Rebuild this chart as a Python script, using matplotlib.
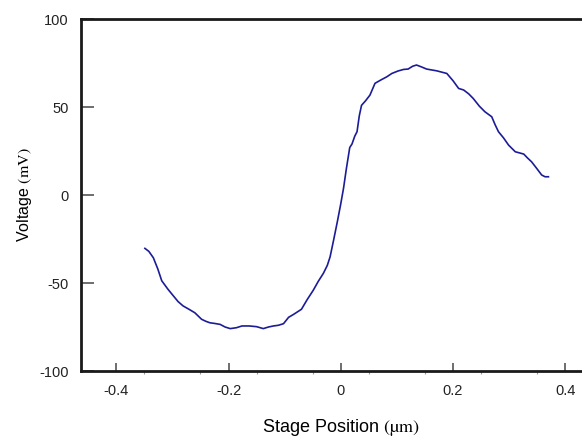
import numpy as np
import matplotlib.pyplot as plt
from matplotlib.ticker import FixedLocator

plt.rcParams['font.family'] = ['Liberation Sans', 'DejaVu Sans']
plt.rcParams['mathtext.fontset'] = 'stix'
plt.rcParams['axes.unicode_minus'] = False

# stage position (um) and voltage (mV)
posicion = [-0.349, -0.342, -0.334, -0.326, -0.319, -0.308, -0.298, -0.290, -0.281,
            -0.270, -0.260, -0.248, -0.240, -0.233, -0.224, -0.215, -0.206,
            -0.197, -0.186, -0.176, -0.163, -0.150, -0.138, -0.129, -0.120,
            -0.111, -0.102, -0.093, -0.084, -0.070, -0.060, -0.049, -0.040,
            -0.031, -0.024, -0.019, -0.013, -0.006, 0.000, 0.005, 0.010, 0.016,
            0.020, 0.025, 0.029, 0.033, 0.037, 0.044, 0.052, 0.061, 0.072, 0.082,
            0.091, 0.102, 0.112, 0.120, 0.128, 0.135, 0.144, 0.153, 0.171,
            0.189, 0.200, 0.210, 0.219, 0.228, 0.236, 0.247, 0.257, 0.269,
            0.275, 0.281, 0.290, 0.299, 0.311, 0.326, 0.333, 0.340, 0.349,
            0.358, 0.364, 0.370]
voltaje = [-30.3, -32.0, -35.6, -42.0, -48.7, -53.5, -57.4, -60.5, -63.0,
           -65.0, -66.9, -70.6, -71.8, -72.6, -73.0, -73.5, -75.0,
           -75.9, -75.4, -74.4, -74.4, -74.8, -75.9, -75.0, -74.4,
           -74.0, -73.1, -69.5, -67.8, -64.9, -59.5, -54.1, -49.0,
           -44.5, -40.0, -35.1, -26.0, -15.0, -5.0, 4.0, 15.0, 27.0,
           29.0, 33.5, 36.0, 45.0, 51.0, 53.5, 56.8, 63.5, 65.5, 67.2,
           69.1, 70.5, 71.4, 71.6, 73.2, 73.9, 72.8, 71.6, 70.6,
           69.1, 65.0, 60.6, 59.7, 57.5, 54.9, 50.5, 47.3, 44.5,
           40.0, 36.0, 32.5, 28.4, 24.6, 23.3, 21.0, 18.9, 15.2,
           11.4, 10.4, 10.4]

xticks = [-0.4, -0.2, 0, 0.2, 0.4]
xminor = [-0.35, -0.25, -0.15, -0.05, 0.05, 0.15, 0.25, 0.35]
yticks = [-100, -50, 0, 50, 100]

fig = plt.figure(figsize=(5.82, 4.41), dpi=100)
ax = fig.add_axes([0.140, 0.1587, 0.891, 0.798])
ax.plot(posicion, voltaje, color='#1c1c96', lw=1.2)

ax.set_xlim(-0.462, 0.462)
ax.set_ylim(-100, 100)
ax.set_xticks(xticks)
ax.set_xticklabels(['-0.4', '-0.2', '0', '0.2', '0.4'])
ax.xaxis.set_minor_locator(FixedLocator(xminor))
ax.set_yticks(yticks)

for lado in ['left', 'bottom', 'top']:
    ax.spines[lado].set_linewidth(2.0)
    ax.spines[lado].set_color('#1a1a1a')
ax.spines['right'].set_visible(False)

ax.tick_params(axis='x', which='major', direction='in', length=6, width=1.2,
               color='#555555', pad=9, labelsize=10.5, labelcolor='#222222')
ax.tick_params(axis='x', which='minor', direction='out', length=2, width=0.8,
               color='#999999')
ax.tick_params(axis='y', which='major', direction='in', length=9, width=1.2,
               color='#555555', pad=9, labelsize=10.5, labelcolor='#222222')
ax.tick_params(top=False, right=False)

ax.set_xlabel(r'Stage Position $\mathrm{(µm)}$', fontsize=13, labelpad=14)
ax.set_ylabel(r'Voltage $\mathrm{(mV)}$', fontsize=11.5, labelpad=4)

plt.savefig('out.png', dpi=100)
